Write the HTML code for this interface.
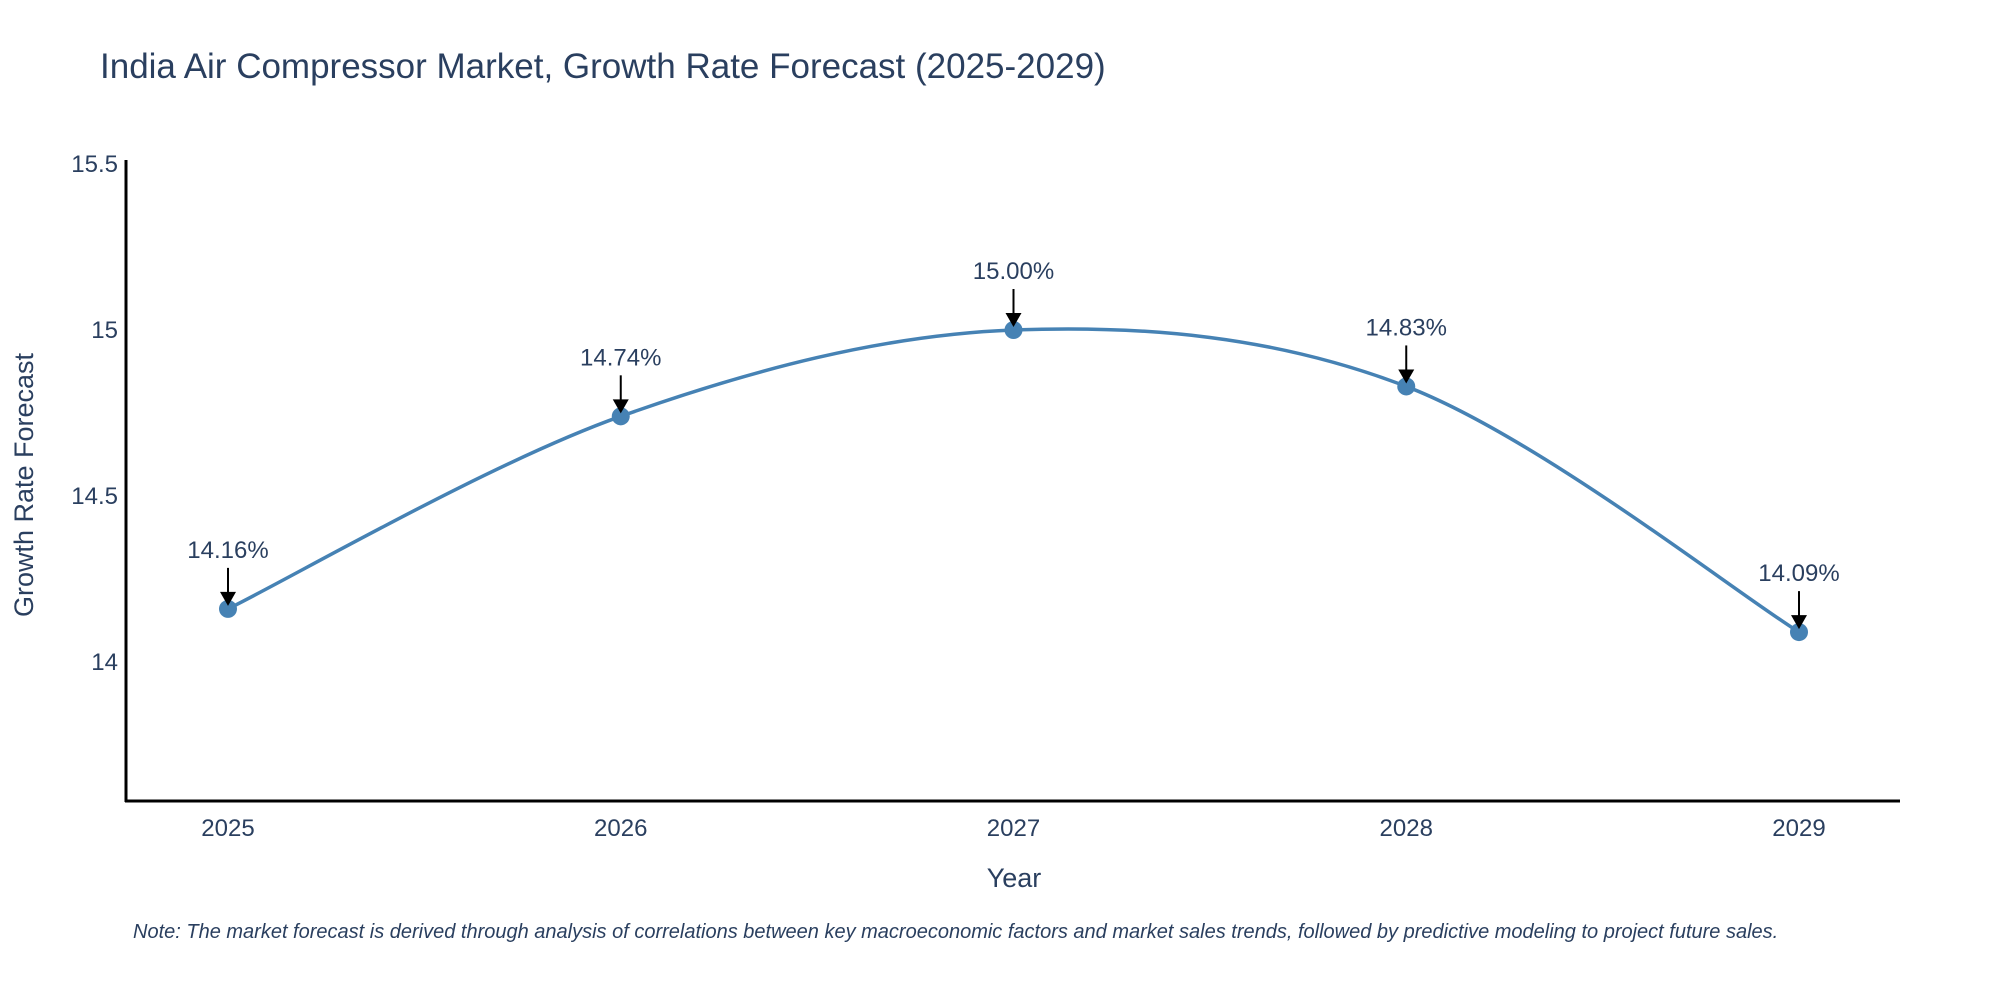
<!DOCTYPE html>
<html><head><meta charset="utf-8"><style>
body{margin:0;background:#fff;}
svg text{font-family:"Liberation Sans",sans-serif;fill:#2a3f5f;}
</style></head><body>
<svg id="chart" width="2000" height="1000" xmlns="http://www.w3.org/2000/svg">
<text x="100" y="78" font-size="35">India Air Compressor Market, Growth Rate Forecast (2025-2029)</text>
<g id="yticks"></g><g id="xticks"></g>
<line x1="126" y1="160" x2="126" y2="802" stroke="#000" stroke-width="3"/>
<line x1="125" y1="801" x2="1900" y2="801" stroke="#000" stroke-width="3"/>
<path id="line" fill="none" stroke="#4682B4" stroke-width="3.5"/>
<g id="points"></g>
<text x="1014" y="887" font-size="27" text-anchor="middle">Year</text>
<text transform="translate(33,485) rotate(-90)" font-size="27" text-anchor="middle">Growth Rate Forecast</text>
<text x="133" y="938" font-size="20" font-style="italic">Note: The market forecast is derived through analysis of correlations between key macroeconomic factors and market sales trends, followed by predictive modeling to project future sales.</text>
</svg>
<script>
const years=[2025,2026,2027,2028,2029];
const values=[14.16,14.74,15.00,14.83,14.09];
const labels=["14.16%","14.74%","15.00%","14.83%","14.09%"];
const yTicks=[14,14.5,15,15.5];
const yTickLabels=["14","14.5","15","15.5"];
const NS="http://www.w3.org/2000/svg";
const x=v=>228+(v-2025)*392.75;
const y=v=>662-(v-14)*332;
function mk(t,a,p){const e=document.createElementNS(NS,t);for(const k in a)e.setAttribute(k,a[k]);p.appendChild(e);return e;}
const yt=document.getElementById('yticks');
yTicks.forEach((t,i)=>{const e=mk('text',{x:118,y:y(t)+8,'font-size':24,'text-anchor':'end'},yt);e.textContent=yTickLabels[i];

});
const xt=document.getElementById('xticks');
years.forEach(t=>{const e=mk('text',{x:x(t),y:836,'font-size':24,'text-anchor':'middle'},xt);e.textContent=t;

});
const P=years.map((t,i)=>[x(t),y(values[i])]);
let d=`M${P[0][0]},${P[0][1]}`;
const s=1/6;
for(let i=0;i<P.length-1;i++){const p0=P[Math.max(i-1,0)],p1=P[i],p2=P[i+1],p3=P[Math.min(i+2,P.length-1)];
d+=` C${p1[0]+(p2[0]-p0[0])*s},${p1[1]+(p2[1]-p0[1])*s} ${p2[0]-(p3[0]-p1[0])*s},${p2[1]-(p3[1]-p1[1])*s} ${p2[0]},${p2[1]}`;}
document.getElementById('line').setAttribute('d',d);
const g=document.getElementById('points');
P.forEach((p,i)=>{const c=mk('circle',{cx:p[0],cy:p[1],r:9,fill:'#4682B4'},g);


const l=mk('line',{x1:p[0],y1:p[1]-41,x2:p[0],y2:p[1]-14,stroke:'#000','stroke-width':2},g);


const a=mk('polygon',{points:`${p[0]-8},${p[1]-17} ${p[0]+8},${p[1]-17} ${p[0]},${p[1]-3}`,fill:'#000'},g);


const t=mk('text',{x:p[0],y:p[1]-51,'font-size':24,'text-anchor':'middle'},g);t.textContent=labels[i];

});
</script>
</body></html>
